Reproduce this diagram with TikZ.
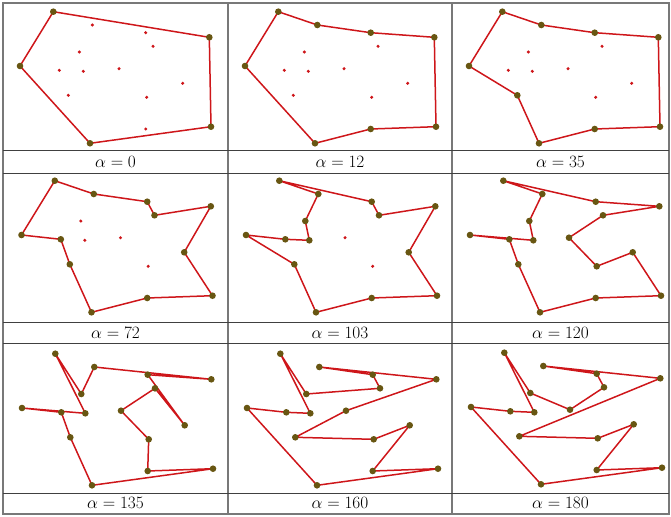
\documentclass[tikz,border=0pt]{standalone}
\usepackage{amsmath}
\usepackage{tikz}
\definecolor{edgered}{RGB}{206,22,26}
\definecolor{vtxolive}{RGB}{104,86,18}
\definecolor{gridgray}{RGB}{120,120,120}
\tikzset{
  edge/.style  = {draw=edgered, line width=1.5pt, line join=round},
  vtx/.style   = {fill=vtxolive},
  inpt/.style  = {fill=edgered},
  lbl/.style   = {font=\fontsize{17}{20}\selectfont, inner sep=0pt},
  frame/.style = {draw=gridgray, line width=1.1pt},
  sep/.style   = {draw=black!75, line width=0.8pt},
}
%% the sixteen points of one panel (px, y down)
\newcommand{\setpts}[1]{%
  \foreach \n/\x/\y in {A/53.3/11.7, B/92.3/25, C/145.7/32.7, D/209.3/37.3,
      E/153/46.3, F/79.3/52, G/20/66, H/59.3/70.3, I/83.3/71.3, J/119/68.7,
      K/182.7/83.3, L/68.3/95.3, M/146.7/97.3, N/211/126.7, O/145.7/129,
      P/90/143.3}
    \coordinate (#1\n) at (\x,\y);}
\newcommand{\vtxs}[2]{\foreach \n in {#2} \fill[vtx] (#1\n) circle (3.3pt);}
\newcommand{\inpts}[2]{\foreach \n in {#2} \fill[inpt] (#1\n) circle (1.7pt);}

\begin{document}
\begin{tikzpicture}[x=1pt, y=-1pt]
\useasboundingbox (0,0) rectangle (671,516);

%% ---- grid ------------------------------------------------------------
\draw[frame] (3,3) rectangle (669,514);
\draw[frame] (228,3) -- (228,514);
\draw[frame] (452,3) -- (452,514);
\foreach \yy in {150,173,322,343,493}
  \draw[sep] (3,\yy) -- (669,\yy);

%% ---- row 1 -----------------------------------------------------------
\begin{scope}[shift={(0,0)}]
  \setpts{a}
  \draw[edge] (aA) -- (aD) -- (aN) -- (aP) -- (aG) -- cycle;
  \vtxs{a}{A,D,N,P,G}
  \inpts{a}{B,C,E,F,H,I,J,K,L,M,O}
\end{scope}
\begin{scope}[shift={(225,0)}]
  \setpts{b}
  \draw[edge] (bA) -- (bB) -- (bC) -- (bD) -- (bN) -- (bO) -- (bP) -- (bG)
    -- cycle;
  \vtxs{b}{A,B,C,D,N,O,P,G}
  \inpts{b}{E,F,H,I,J,K,L,M}
\end{scope}
\begin{scope}[shift={(449,0)}]
  \setpts{c}
  \draw[edge] (cA) -- (cB) -- (cC) -- (cD) -- (cN) -- (cO) -- (cP) -- (cL)
    -- (cG) -- cycle;
  \vtxs{c}{A,B,C,D,N,O,P,L,G}
  \inpts{c}{E,F,H,I,J,K,M}
\end{scope}

%% ---- row 2 -----------------------------------------------------------
\begin{scope}[shift={(1.5,169)}]
  \setpts{d}
  \draw[edge] (dA) -- (dB) -- (dC) -- (dE) -- (dD) -- (dK) -- (dN) -- (dO)
    -- (dP) -- (dL) -- (dH) -- (dG) -- cycle;
  \vtxs{d}{A,B,C,E,D,K,N,O,P,L,H,G}
  \inpts{d}{F,I,J,M}
\end{scope}
\begin{scope}[shift={(226,169)}]
  \setpts{e}
  \draw[edge] (eA) -- (eC) -- (eE) -- (eD) -- (eK) -- (eN) -- (eO) -- (eP)
    -- (eL) -- (eG) -- (eH) -- (eI) -- (eF) -- (eB) -- cycle;
  \vtxs{e}{A,C,E,D,K,N,O,P,L,G,H,I,F,B}
  \inpts{e}{J,M}
\end{scope}
\begin{scope}[shift={(450,169)}]
  \setpts{f}
  \draw[edge] (fA) -- (fC) -- (fD) -- (fE) -- (fJ) -- (fM) -- (fK) -- (fN)
    -- (fO) -- (fP) -- (fL) -- (fH) -- (fG) -- (fI) -- (fF) -- (fB) -- cycle;
  \vtxs{f}{A,B,C,D,E,F,G,H,I,J,K,L,M,N,O,P}
\end{scope}

%% ---- row 3 -----------------------------------------------------------
\begin{scope}[shift={(2,342)}]
  \setpts{g}
  \draw[edge] (gA) -- (gF) -- (gB) -- (gD) -- (gC) -- (gK) -- (gE) -- (gJ)
    -- (gM) -- (gO) -- (gN) -- (gP) -- (gL) -- (gH) -- (gG) -- (gI) -- cycle;
  \vtxs{g}{A,B,C,D,E,F,G,H,I,J,K,L,M,N,O,P}
\end{scope}
\begin{scope}[shift={(227,342)}]
  \setpts{h}
  \draw[edge] (hA) -- (hF) -- (hE) -- (hC) -- (hB) -- (hD) -- (hJ) -- (hL)
    -- (hM) -- (hK) -- (hO) -- (hN) -- (hP) -- (hG) -- (hH) -- (hI) -- cycle;
  \vtxs{h}{A,B,C,D,E,F,G,H,I,J,K,L,M,N,O,P}
\end{scope}
\begin{scope}[shift={(451,341)}]
  \setpts{k}
  \draw[edge] (kA) -- (kF) -- (kJ) -- (kE) -- (kC) -- (kB) -- (kD) -- (kL)
    -- (kM) -- (kK) -- (kO) -- (kN) -- (kP) -- (kG) -- (kH) -- (kI) -- cycle;
  \vtxs{k}{A,B,C,D,E,F,G,H,I,J,K,L,M,N,O,P}
\end{scope}

%% ---- labels ----------------------------------------------------------
\node[lbl] (lab1) at (115.5,161.5) {$\alpha = 0$};
\node[lbl] (lab2) at (340,161.5)   {$\alpha = 12$};
\node[lbl] (lab3) at (560.5,161.5) {$\alpha = 35$};
\node[lbl] (lab4) at (115.5,332.5) {$\alpha = 72$};
\node[lbl] (lab5) at (340,332.5)   {$\alpha = 103$};
\node[lbl] (lab6) at (560.5,332.5) {$\alpha = 120$};
\node[lbl] (lab7) at (115.5,503)   {$\alpha = 135$};
\node[lbl] (lab8) at (340,503)     {$\alpha = 160$};
\node[lbl] (lab9) at (560.5,503)   {$\alpha = 180$};
\end{tikzpicture}
\end{document}
